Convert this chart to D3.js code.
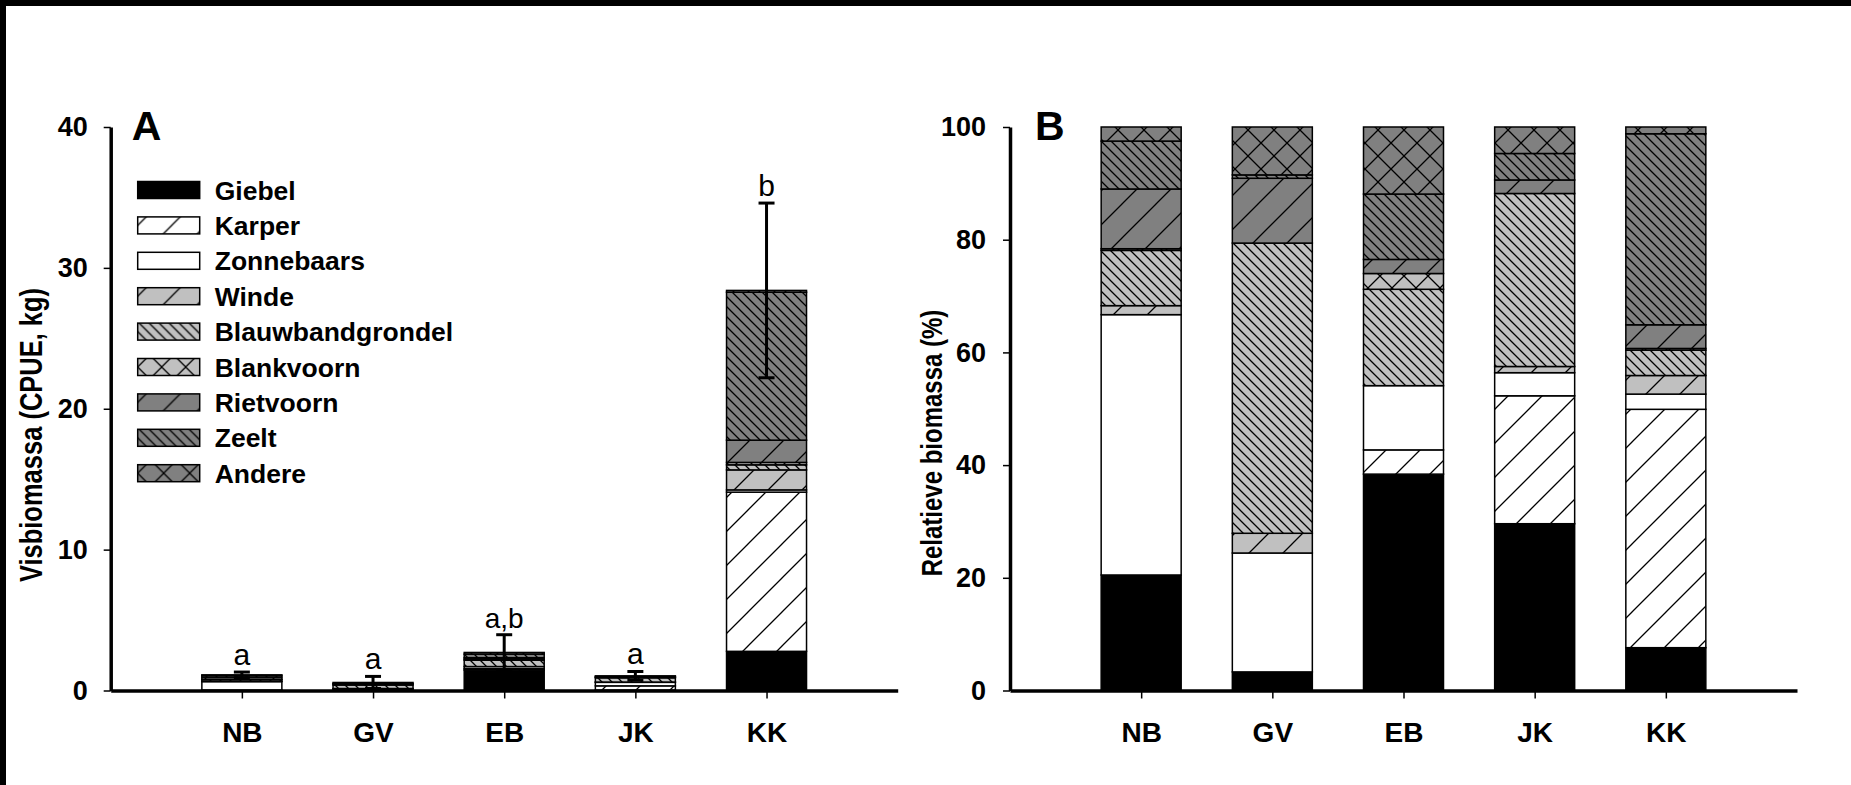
<!DOCTYPE html>
<html>
<head>
<meta charset="utf-8">
<script src="https://cdn.jsdelivr.net/npm/d3@7"></script>
<style>
  body { margin: 0; background: #fff; }
  text { font-family: "Liberation Sans", Arial, sans-serif; }
</style>
</head>
<body>
<div id="chart"></div>
<script>
var w = 1851;
var h = 785;

// sites and species
var sites = ["NB", "GV", "EB", "JK", "KK"];
var species = ["Giebel", "Karper", "Zonnebaars", "Winde", "Blauwbandgrondel",
               "Blankvoorn", "Rietvoorn", "Zeelt", "Andere"];

// panel A: CPUE (kg) per species, per site NB, GV, EB, JK, KK
var cpueGiebel     = [0.03, 0.02, 1.45, 0.03, 2.78];
var cpueKarper     = [0.00, 0.00, 0.10, 0.30, 11.30];
var cpueZonnebaars = [0.60, 0.10, 0.15, 0.25, 0.16];
var cpueWinde      = [0.03, 0.02, 0.00, 0.02, 1.42];
var cpueBlauwband  = [0.12, 0.25, 0.45, 0.30, 0.36];
var cpueBlankvoorn = [0.02, 0.00, 0.08, 0.00, 0.17];
var cpueRietvoorn  = [0.15, 0.08, 0.10, 0.04, 1.58];
var cpueZeelt      = [0.12, 0.02, 0.25, 0.05, 10.50];
var cpueAndere     = [0.04, 0.08, 0.12, 0.05, 0.13];
var cpueError      = [0.20, 0.43, 1.26, 0.31, 6.20];
var cpueLetters    = ["a", "a", "a,b", "a", "b"];

// panel B: relative biomass (%) per species
var pctGiebel     = [20.5, 3.3, 38.4, 29.6, 7.6];
var pctKarper     = [0.0, 0.0, 4.3, 22.7, 42.3];
var pctZonnebaars = [46.2, 21.1, 11.4, 4.1, 2.7];
var pctWinde      = [1.6, 3.5, 0.0, 1.1, 3.3];
var pctBlauwband  = [9.8, 51.5, 17.1, 30.7, 4.5];
var pctBlankvoorn = [0.3, 0.0, 2.8, 0.0, 0.3];
var pctRietvoorn  = [10.6, 11.5, 2.5, 2.4, 4.2];
var pctZeelt      = [8.5, 0.6, 11.6, 4.7, 33.9];
var pctAndere     = [2.5, 8.5, 11.9, 4.7, 1.2];

var ticksA = [0, 10, 20, 30, 40];
var ticksB = [0, 20, 40, 60, 80, 100];

var cpueSeries = [cpueGiebel, cpueKarper, cpueZonnebaars, cpueWinde, cpueBlauwband,
                  cpueBlankvoorn, cpueRietvoorn, cpueZeelt, cpueAndere];
var pctSeries = [pctGiebel, pctKarper, pctZonnebaars, pctWinde, pctBlauwband,
                 pctBlankvoorn, pctRietvoorn, pctZeelt, pctAndere];

function toRows(series) {
  return sites.map(function(s, i) {
    var row = {site: s};
    species.forEach(function(sp, j) { row[sp] = series[j][i]; });
    return row;
  });
}

// fill per species: pattern ids
var fills = {
  "Giebel": "#000",
  "Karper": "url(#p-karper)",
  "Zonnebaars": "#fff",
  "Winde": "url(#p-winde)",
  "Blauwbandgrondel": "url(#p-blauw)",
  "Blankvoorn": "url(#p-blank)",
  "Rietvoorn": "url(#p-riet)",
  "Zeelt": "url(#p-zeelt)",
  "Andere": "url(#p-andere)"
};

var svg = d3.select("#chart")
  .append("svg")
  .attr("width", w)
  .attr("height", h);

svg.append("rect").attr("width", w).attr("height", h).attr("fill", "#fff");

// hatch patterns
var defs = svg.append("defs");
function hatch(id, bg, size, kind) {
  var p = defs.append("pattern")
    .attr("id", id)
    .attr("patternUnits", "userSpaceOnUse")
    .attr("width", size)
    .attr("height", size);
  p.append("rect").attr("width", size).attr("height", size).attr("fill", bg);
  var s = size;
  var fwd = "M-2,2 L2,-2 M0," + s + " L" + s + ",0 M" + (s - 2) + "," + (s + 2) + " L" + (s + 2) + "," + (s - 2);
  var back = "M0,0 L" + s + "," + s + " M-2," + (s - 2) + " L2," + (s + 2) + " M" + (s - 2) + ",-2 L" + (s + 2) + ",2";
  var d = kind == "/" ? fwd : kind == "\\" ? back : fwd + " " + back;
  p.append("path").attr("d", d).attr("stroke", "#000").attr("stroke-width", 1.3).attr("fill", "none");
}
hatch("p-karper", "#fff", 34, "/");
hatch("p-winde", "#c0c0c0", 34, "/");
hatch("p-blauw", "#c0c0c0", 10, "\\");
hatch("p-blank", "#c0c0c0", 24, "x");
hatch("p-riet", "#808080", 34, "/");
hatch("p-zeelt", "#808080", 10, "\\");
hatch("p-andere", "#808080", 26, "x");

// frame on top and left
svg.append("rect").attr("x", 0).attr("y", 0).attr("width", w).attr("height", 6).attr("fill", "#000");
svg.append("rect").attr("x", 0).attr("y", 0).attr("width", 6).attr("height", h).attr("fill", "#000");

var y0 = 690.5, y1 = 127;
var barW = 80;
var stack = d3.stack().keys(species);

function panel(opts) {
  var x = d3.scalePoint().domain(sites).range([opts.x0, opts.x0 + 787]).padding(1);
  var y = d3.scaleLinear().domain([0, opts.max]).range([y0, y1]);
  var g = svg.append("g");

  var layers = stack(toRows(opts.series));
  g.selectAll("g.layer")
    .data(layers)
    .enter()
    .append("g")
    .attr("class", "layer")
    .attr("fill", function(d) { return fills[d.key]; })
    .selectAll("rect")
    .data(function(d) { return d.filter(function(v) { return v[1] - v[0] > 0; }); })
    .enter()
    .append("rect")
    .attr("x", function(d) { return x(d.data.site) - barW / 2; })
    .attr("y", function(d) { return y(d[1]); })
    .attr("width", barW)
    .attr("height", function(d) { return y(d[0]) - y(d[1]); })
    .attr("stroke", "#000")
    .attr("stroke-width", 1.5);

  // y axis
  var ya = g.append("g")
    .attr("transform", "translate(" + opts.x0 + ",0)")
    .call(d3.axisLeft(y).tickValues(opts.ticks).tickSize(7).tickSizeOuter(0).tickPadding(opts.tickPad));
  ya.select(".domain").attr("stroke-width", 3.5);
  ya.selectAll(".tick line").attr("stroke-width", 1.5);
  ya.selectAll(".tick text")
    .attr("font-size", "27px")
    .attr("font-weight", "bold")
    .attr("font-family", "Liberation Sans, Arial, sans-serif")
    .attr("fill", "#000");

  // x axis
  var xa = g.append("g")
    .attr("transform", "translate(0," + y0 + ")")
    .call(d3.axisBottom(x).tickSize(8).tickSizeOuter(0).tickPadding(24));
  xa.select(".domain").attr("stroke-width", 3.5);
  xa.selectAll(".tick line").attr("stroke-width", 1.5);
  xa.selectAll(".tick text")
    .attr("font-size", "28px")
    .attr("font-weight", "bold")
    .attr("font-family", "Liberation Sans, Arial, sans-serif")
    .attr("fill", "#000");

  // panel letter
  g.append("text")
    .attr("x", opts.x0 + opts.letterDx)
    .attr("y", 140)
    .attr("font-size", "41px")
    .attr("font-weight", "bold")
    .text(opts.letter);

  // axis title
  g.append("text")
    .attr("transform", "translate(" + opts.titleX + "," + opts.titleY + ") scale(1.2,1) rotate(-90)")
    .attr("text-anchor", "middle")
    .attr("font-size", opts.titleSize + "px")
    .attr("font-weight", "bold")
    .text(opts.title);

  return {x: x, y: y, g: g, layers: layers};
}

var A = panel({
  x0: 110.7, max: 40, ticks: ticksA, series: cpueSeries, tickPad: 16,
  letter: "A", letterDx: 21, title: "Visbiomassa (CPUE, kg)", titleX: 42, titleY: 435, titleSize: 25.5
});
var B = panel({
  x0: 1010, max: 100, ticks: ticksB, series: pctSeries, tickPad: 17,
  letter: "B", letterDx: 25, title: "Relatieve biomassa (%)", titleX: 942, titleY: 443, titleSize: 24
});

// error bars and letters in panel A
var totals = sites.map(function(s, i) { return d3.sum(cpueSeries, function(sr) { return sr[i]; }); });
var eb = A.g.selectAll("g.err")
  .data(sites)
  .enter()
  .append("g")
  .attr("class", "err")
  .attr("stroke", "#000")
  .attr("stroke-width", 3);
eb.append("line")
  .attr("x1", function(d) { return A.x(d); })
  .attr("x2", function(d) { return A.x(d); })
  .attr("y1", function(d, i) { return A.y(totals[i] + cpueError[i]); })
  .attr("y2", function(d, i) { return A.y(totals[i] - cpueError[i]); });
eb.append("line")
  .attr("x1", function(d) { return A.x(d) - 8; })
  .attr("x2", function(d) { return A.x(d) + 8; })
  .attr("y1", function(d, i) { return A.y(totals[i] + cpueError[i]); })
  .attr("y2", function(d, i) { return A.y(totals[i] + cpueError[i]); });
eb.append("line")
  .attr("x1", function(d) { return A.x(d) - 8; })
  .attr("x2", function(d) { return A.x(d) + 8; })
  .attr("y1", function(d, i) { return A.y(totals[i] - cpueError[i]); })
  .attr("y2", function(d, i) { return A.y(totals[i] - cpueError[i]); });

A.g.selectAll("text.sig")
  .data(sites)
  .enter()
  .append("text")
  .attr("class", "sig")
  .attr("x", function(d) { return A.x(d); })
  .attr("y", function(d, i) { return A.y(totals[i] + cpueError[i]) - 7; })
  .attr("text-anchor", "middle")
  .attr("font-size", function(d, i) { return cpueLetters[i].length > 1 ? "28px" : "30px"; })
  .text(function(d, i) { return cpueLetters[i]; });

// legend
var legend = A.g.selectAll("g.leg")
  .data(species)
  .enter()
  .append("g")
  .attr("class", "leg")
  .attr("transform", function(d, i) { return "translate(137.7," + (190 + i * 35.4) + ")"; });
legend.append("rect")
  .attr("x", 0)
  .attr("y", -8.5)
  .attr("width", 62)
  .attr("height", 17)
  .attr("fill", function(d) { return fills[d]; })
  .attr("stroke", "#000")
  .attr("stroke-width", 1.5);
legend.append("text")
  .attr("x", 77)
  .attr("y", 9.5)
  .attr("font-size", "26.5px")
  .attr("font-weight", "bold")
  .text(function(d) { return d; });
</script>
</body>
</html>
